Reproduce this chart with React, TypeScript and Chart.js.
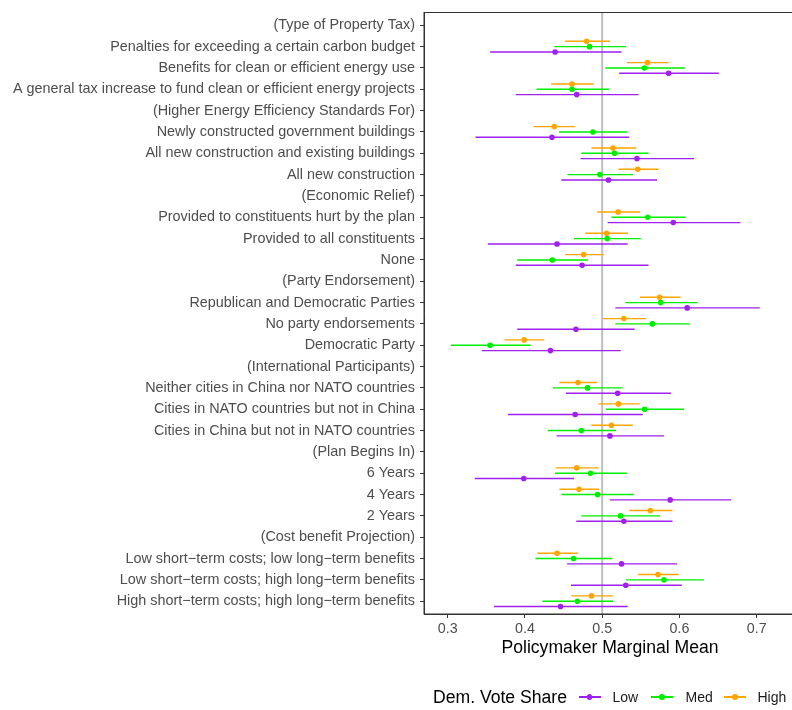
import React, { useEffect, useRef } from "react";
import { Chart, registerables } from "chart.js";
Chart.register(...registerables);

const categories = [
  "(Type of Property Tax)",
  "Penalties for exceeding a certain carbon budget",
  "Benefits for clean or efficient energy use",
  "A general tax increase to fund clean or efficient energy projects",
  "(Higher Energy Efficiency Standards For)",
  "Newly constructed government buildings",
  "All new construction and existing buildings",
  "All new construction",
  "(Economic Relief)",
  "Provided to constituents hurt by the plan",
  "Provided to all constituents",
  "None",
  "(Party Endorsement)",
  "Republican and Democratic Parties",
  "No party endorsements",
  "Democratic Party",
  "(International Participants)",
  "Neither cities in China nor NATO countries",
  "Cities in NATO countries but not in China",
  "Cities in China but not in NATO countries",
  "(Plan Begins In)",
  "6 Years",
  "4 Years",
  "2 Years",
  "(Cost benefit Projection)",
  "Low short\u2212term costs; low long\u2212term benefits",
  "Low short\u2212term costs; high long\u2212term benefits",
  "High short\u2212term costs; high long\u2212term benefits",
];

const N = null;
// Low Dem. vote share (purple)
const lowEst = [N, 0.439, 0.586, 0.467, N, 0.435, 0.545, 0.508, N, 0.592, 0.4415, 0.474, N, 0.61, 0.466, 0.433, N, 0.52, 0.465, 0.51, N, 0.3985, 0.588, 0.528, N, 0.525, 0.5305, 0.446];
const lowLo = [N, 0.355, 0.522, 0.388, N, 0.336, 0.472, 0.447, N, 0.507, 0.352, 0.388, N, 0.517, 0.39, 0.344, N, 0.453, 0.378, 0.441, N, 0.335, 0.51, 0.4665, N, 0.4545, 0.4596, 0.36];
const lowHi = [N, 0.525, 0.651, 0.547, N, 0.535, 0.619, 0.571, N, 0.679, 0.533, 0.56, N, 0.704, 0.542, 0.524, N, 0.589, 0.5525, 0.58, N, 0.4635, 0.667, 0.591, N, 0.597, 0.603, 0.533];
// Med
const medEst = [N, 0.4836, 0.5546, 0.461, N, 0.488, 0.516, 0.497, N, 0.559, 0.5065, 0.4355, N, 0.5757, 0.565, 0.355, N, 0.481, 0.555, 0.473, N, 0.485, 0.494, 0.5237, N, 0.463, 0.58, 0.468];
const medLo = [N, 0.438, 0.504, 0.415, N, 0.444, 0.473, 0.455, N, 0.512, 0.4635, 0.39, N, 0.53, 0.517, 0.304, N, 0.436, 0.505, 0.4295, N, 0.439, 0.4475, 0.473, N, 0.4135, 0.5305, 0.4226];
const medHi = [N, 0.531, 0.607, 0.509, N, 0.533, 0.56, 0.54, N, 0.608, 0.55, 0.4815, N, 0.6235, 0.6135, 0.4075, N, 0.5265, 0.606, 0.518, N, 0.532, 0.541, 0.575, N, 0.513, 0.6316, 0.514];
// High
const highEst = [N, 0.48, 0.5585, 0.461, N, 0.438, 0.514, 0.546, N, 0.5206, 0.5056, 0.476, N, 0.5744, 0.528, 0.399, N, 0.4686, 0.521, 0.512, N, 0.467, 0.47, 0.5624, N, 0.4415, 0.5723, 0.486];
const highLo = [N, 0.452, 0.532, 0.434, N, 0.411, 0.486, 0.521, N, 0.4935, 0.478, 0.452, N, 0.549, 0.501, 0.3735, N, 0.4445, 0.495, 0.486, N, 0.4398, 0.4445, 0.535, N, 0.416, 0.5465, 0.46];
const highHi = [N, 0.51, 0.586, 0.489, N, 0.465, 0.544, 0.573, N, 0.549, 0.5335, 0.502, N, 0.6015, 0.557, 0.425, N, 0.4935, 0.5486, 0.5396, N, 0.4953, 0.496, 0.591, N, 0.4686, 0.599, 0.514];

const xTicks = [0.3, 0.4, 0.5, 0.6, 0.7];
const xMin = 0.2693;
const xMax = 0.7509;
const refValue = 0.5;

const seriesNames = ["Low", "Med", "High"];
const seriesColors = ["#A020F0", "#00EE00", "#FFA500"];
const seriesOffsets = [0.25, 0, -0.25];

const FONT = "'Liberation Sans', Arial, Helvetica, sans-serif";
const CANVAS_W = 800;

function points(est: (number | null)[], off: number) {
  const out: any[] = [];
  est.forEach((v, i) => {
    if (v != null) out.push({ x: v, y: i + off });
  });
  return out;
}
function whiskers(lo: (number | null)[], hi: (number | null)[], off: number) {
  const out: any[] = [];
  lo.forEach((l, i) => {
    if (l == null || hi[i] == null) return;
    out.push({ x: l, y: i + off }, { x: hi[i], y: i + off }, { x: null, y: null });
  });
  return out;
}

const borderPlugin = {
  id: "panelBorder",
  afterDraw(chart: any) {
    const { ctx, chartArea } = chart;
    ctx.save();
    ctx.strokeStyle = "#333333";
    ctx.lineWidth = 1;
    ctx.strokeRect(chartArea.left, chartArea.top, chartArea.right - chartArea.left, chartArea.bottom - chartArea.top);
    ctx.restore();
  },
};

const legendKeyLeft = [578.5, 651, 724];
const legendLabelLeft = [612.5, 685.5, 757.5];
const LEGEND_Y = 697;

export default function App() {
  const ref = useRef<HTMLCanvasElement | null>(null);
  useEffect(() => {
    document.body.style.margin = "0";
    const ests = [lowEst, medEst, highEst];
    const los = [lowLo, medLo, highLo];
    const his = [lowHi, medHi, highHi];
    const datasets: any[] = [];
    for (let s = 0; s < 3; s++) {
      datasets.push({
        label: seriesNames[s] + " points",
        data: points(ests[s], seriesOffsets[s]),
        backgroundColor: seriesColors[s],
        borderColor: seriesColors[s],
        pointRadius: 2.8,
        borderWidth: 0,
        showLine: false,
        order: 1,
      });
    }
    for (let s = 0; s < 3; s++) {
      datasets.push({
        label: seriesNames[s] + " CI",
        data: whiskers(los[s], his[s], seriesOffsets[s]),
        borderColor: seriesColors[s],
        borderWidth: 1.4,
        pointRadius: 0,
        showLine: true,
        spanGaps: false,
        order: 2,
      });
    }
    datasets.push({
      label: "ref",
      data: [
        { x: refValue, y: -0.6 },
        { x: refValue, y: categories.length - 0.4 },
      ],
      borderColor: "#BEBEBE",
      borderWidth: 2,
      pointRadius: 0,
      showLine: true,
      order: 3,
    });

    const chart = new Chart(ref.current as HTMLCanvasElement, {
      type: "scatter",
      data: { datasets },
      plugins: [borderPlugin],
      options: {
        animation: false,
        responsive: false,
        layout: { padding: { top: 12.5, right: 4, left: 0, bottom: 0 } },
        plugins: { legend: { display: false }, tooltip: { enabled: false } },
        scales: {
          x: {
            type: "linear",
            position: "bottom",
            min: xMin,
            max: xMax,
            afterBuildTicks: (scale: any) => {
              scale.ticks = xTicks.map((v) => ({ value: v }));
            },
            afterFit: (scale: any) => {
              scale.height = 96;
              scale.paddingLeft = 0;
              scale.paddingRight = 0;
            },
            ticks: {
              callback: (v: any) => Number(v).toFixed(1),
              font: { family: FONT, size: 14.3 },
              color: "#4D4D4D",
              padding: 2.5,
            },
            grid: { drawOnChartArea: false, drawTicks: true, tickLength: 4, color: "#333333" },
            border: { display: true, color: "#333333", width: 1 },
            title: {
              display: true,
              text: "Policymaker Marginal Mean",
              font: { family: FONT, size: 17.6 },
              color: "#000000",
              padding: { top: 0, bottom: 51.5 },
            },
          },
          y: {
            type: "linear",
            reverse: true,
            min: -0.6,
            max: categories.length - 0.4,
            afterBuildTicks: (scale: any) => {
              scale.ticks = categories.map((_, i) => ({ value: i }));
            },
            afterFit: (scale: any) => {
              scale.width = 424;
              scale.paddingTop = 0;
              scale.paddingBottom = 0;
            },
            ticks: {
              autoSkip: false,
              callback: (v: any) => categories[Math.round(Number(v))],
              font: { family: FONT, size: 14.4 },
              color: "#4D4D4D",
              padding: 5,
            },
            grid: { drawOnChartArea: false, drawTicks: true, tickLength: 4, color: "#333333" },
            border: { display: true, color: "#333333", width: 1 },
          },
        },
      } as any,
    });
    return () => chart.destroy();
  }, []);

  const textBase = {
    position: "absolute" as const,
    top: LEGEND_Y - 10,
    height: 20,
    lineHeight: "20px",
    fontFamily: FONT,
    whiteSpace: "nowrap" as const,
  };

  return (
    <div style={{ position: "absolute", left: 0, top: 0, width: 792, height: 710, overflow: "hidden", background: "#fff" }}>
      <canvas ref={ref} width={CANVAS_W} height={710} style={{ width: CANVAS_W, height: 710, display: "block" }} />
      <span style={{ ...textBase, left: 433, fontSize: 17.6, color: "#000" }}>Dem. Vote Share</span>
      {seriesNames.map((n, i) => (
        <React.Fragment key={n}>
          <div
            style={{
              position: "absolute",
              left: legendKeyLeft[i],
              top: LEGEND_Y - 0.7,
              width: 22,
              height: 1.4,
              background: seriesColors[i],
            }}
          />
          <div
            style={{
              position: "absolute",
              left: legendKeyLeft[i] + 11 - 2.8,
              top: LEGEND_Y - 2.8,
              width: 5.6,
              height: 5.6,
              borderRadius: "50%",
              background: seriesColors[i],
            }}
          />
          <span style={{ ...textBase, left: legendLabelLeft[i], fontSize: 14, color: "#1a1a1a" }}>{n}</span>
        </React.Fragment>
      ))}
    </div>
  );
}
